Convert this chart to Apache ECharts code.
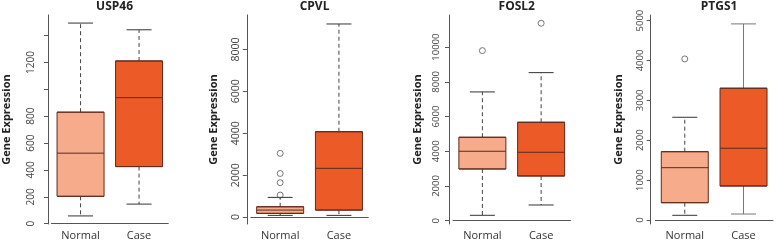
<!DOCTYPE html>
<html>
<head>
<meta charset="utf-8">
<script src="https://cdn.jsdelivr.net/npm/echarts@6/dist/echarts.min.js"></script>
<style>
  html, body { margin: 0; padding: 0; background: #fff; }
  #chart { width: 778px; height: 243px; }
</style>
</head>
<body>
<div id="chart"></div>
<script>
const genes = ['USP46', 'CPVL', 'FOSL2', 'PTGS1']
const groups = ['Normal', 'Case']

// per gene: [Normal, Case]
const whiskerLow = [[58, 146], [81, 81], [311, 905], [118, 150]]
const q1 = [[204, 425], [177, 334], [2980, 2576], [434, 853]]
const median = [[525, 938], [334, 2325], [4000, 3942], [1312, 1799]]
const q3 = [[830, 1211], [492, 4072], [4807, 5671], [1713, 3304]]
const whiskerHigh = [[1493, 1443], [940, 9212], [7418, 8530], [2576, 4917]]
const outliers = [
  [[], []],
  [[3040, 2080, 1640, 1050], []],
  [[9798], [11376]],
  [[4039], []]
]

const yMin = [-2, -330, -190, -100]
const yMax = [1553, 9640, 11850, 5140]
const yTicks = [
  [0, 200, 400, 600, 800, 1000, 1200, 1400],
  [0, 2000, 4000, 6000, 8000],
  [0, 2000, 4000, 6000, 8000, 10000],
  [0, 1000, 2000, 3000, 4000, 5000]
]
const yLabels = [
  [0, 200, 400, 600, 800, 1200],
  [0, 2000, 4000, 6000, 8000],
  [0, 2000, 4000, 6000, 8000, 10000],
  [0, 1000, 2000, 3000, 4000, 5000]
]

// layout per panel
const gridLeft = [50.8, 250.8, 453, 655.4]
const gridWidth = 117.5
const axisOffset = [3.3, 4, 4, 4.7]
const labelSize = [10, 10.5, 9.5, 9.5]
const labelMargin = [12, 5.5, 8, 5.5]
const nameGap = [36, 27, 26, 26]

const fills = ['#F6AB8A', '#EC5A27']
const edge = '#5E2A1B'
const font = 'Open Sans'

const chart = echarts.init(document.getElementById('chart'))

const grid = [], xAxis = [], yAxis = [], title = [], series = []

genes.forEach((gene, i) => {
  grid.push({ left: gridLeft[i], width: gridWidth, top: 15, bottom: 19 })
  title.push({
    text: gene,
    left: gridLeft[i] + gridWidth / 2,
    textAlign: 'center',
    top: -4,
    textStyle: { fontFamily: font, fontWeight: 'bold', fontSize: 12, color: '#222' }
  })
  xAxis.push({
    type: 'category',
    gridIndex: i,
    data: groups,
    axisLine: { lineStyle: { color: '#555', width: 1 } },
    axisTick: { alignWithLabel: true, length: 4, lineStyle: { color: '#555' } },
    axisLabel: { fontFamily: font, fontSize: 11, color: '#333', margin: 6 },
    splitLine: { show: false }
  })
  yAxis.push({
    type: 'value',
    gridIndex: i,
    min: yMin[i],
    max: yMax[i],
    offset: axisOffset[i],
    name: 'Gene Expression',
    nameLocation: 'middle',
    nameGap: nameGap[i],
    nameTextStyle: { fontFamily: font, fontWeight: 'bold', fontSize: 11, color: '#222' },
    axisLine: { show: true, lineStyle: { color: '#555', width: 1 } },
    axisTick: { show: true, length: 4, customValues: yTicks[i], lineStyle: { color: '#555' } },
    axisLabel: {
      customValues: yLabels[i],
      formatter: v => String(v),
      rotate: 90,
      fontFamily: font,
      fontSize: labelSize[i],
      color: '#444',
      margin: labelMargin[i]
    },
    splitLine: { show: false }
  })

  // dashed whiskers with solid caps
  series.push({
    type: 'custom',
    xAxisIndex: i,
    yAxisIndex: i,
    z: 1,
    silent: true,
    data: groups.map((g, k) => [k, whiskerLow[i][k], q1[i][k], q3[i][k], whiskerHigh[i][k]]),
    renderItem: (params, api) => {
      const k = api.value(0)
      const x = api.coord([k, 0])[0]
      const yLow = api.coord([k, api.value(1)])[1]
      const yQ1 = api.coord([k, api.value(2)])[1]
      const yQ3 = api.coord([k, api.value(3)])[1]
      const yHigh = api.coord([k, api.value(4)])[1]
      const solid = i === 3 && k === 1
      const stem = { stroke: solid ? '#777' : '#444', lineWidth: 1, lineDash: solid ? null : [4, 3] }
      const cap = { stroke: solid ? '#777' : '#333', lineWidth: 1 }
      const half = 12.5
      return {
        type: 'group',
        children: [
          { type: 'line', shape: { x1: x, y1: yQ3, x2: x, y2: yHigh }, style: stem },
          { type: 'line', shape: { x1: x, y1: yQ1, x2: x, y2: yLow }, style: stem },
          { type: 'line', shape: { x1: x - half, y1: yHigh, x2: x + half, y2: yHigh }, style: cap },
          { type: 'line', shape: { x1: x - half, y1: yLow, x2: x + half, y2: yLow }, style: cap }
        ]
      }
    }
  })

  series.push({
    type: 'boxplot',
    xAxisIndex: i,
    yAxisIndex: i,
    z: 2,
    boxWidth: [47, 47],
    silent: true,
    data: groups.map((g, k) => ({
      value: [q1[i][k], q1[i][k], median[i][k], q3[i][k], q3[i][k]],
      itemStyle: { color: fills[k], borderColor: edge, borderWidth: 1 }
    }))
  })

  series.push({
    type: 'scatter',
    xAxisIndex: i,
    yAxisIndex: i,
    z: 3,
    symbol: 'circle',
    symbolSize: 6,
    silent: true,
    itemStyle: { color: 'rgba(255,255,255,0)', borderColor: '#444', borderWidth: 0.9 },
    data: outliers[i].flatMap((vals, k) => vals.map(v => [k, v]))
  })
})

chart.setOption({
  animation: false,
  backgroundColor: '#fff',
  title,
  grid,
  xAxis,
  yAxis,
  series
})
</script>
</body>
</html>
